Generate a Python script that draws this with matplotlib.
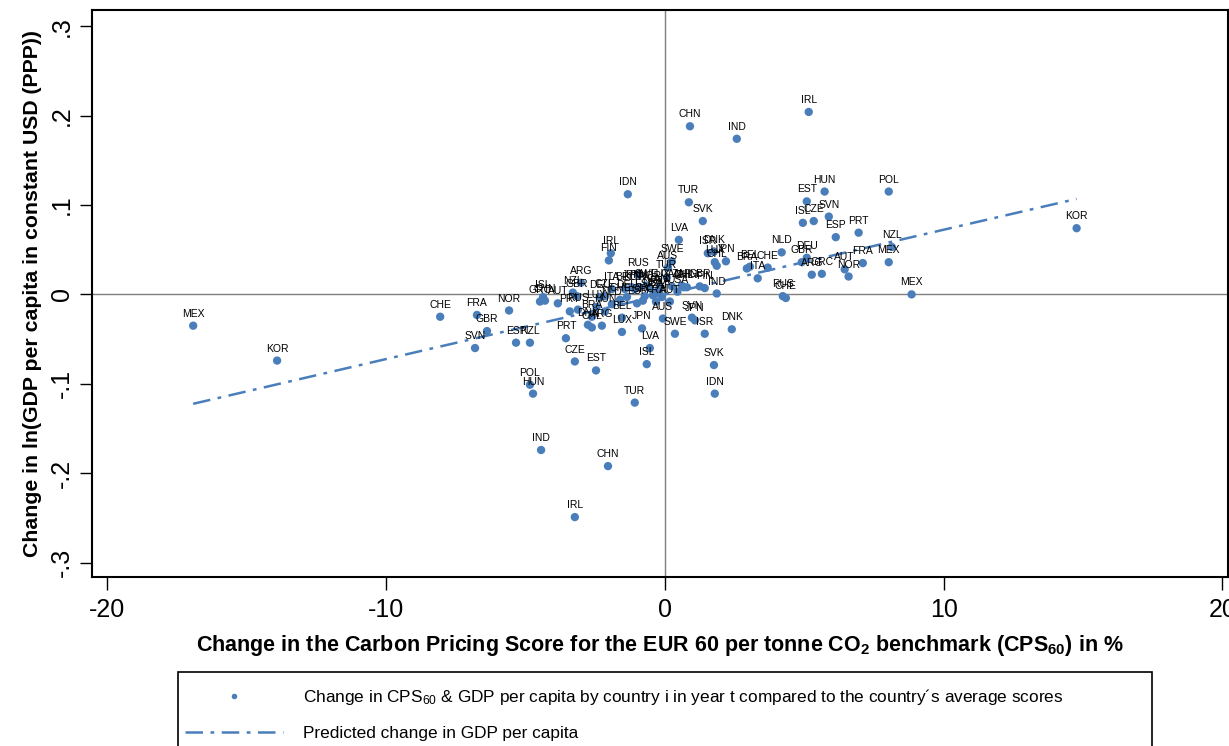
import numpy as np
import matplotlib
matplotlib.use('Agg')
import matplotlib.pyplot as plt
from matplotlib.lines import Line2D
from matplotlib.patches import Rectangle

plt.rcParams['font.family'] = ['Liberation Sans', 'DejaVu Sans']
plt.rcParams['mathtext.fontset'] = 'custom'
plt.rcParams['mathtext.rm'] = 'Liberation Sans'
plt.rcParams['mathtext.bf'] = 'Liberation Sans:bold'
plt.rcParams['mathtext.default'] = 'regular'

# country labels and deviations from country averages
countries = ['MEX', 'KOR', 'CHE', 'FRA', 'NOR', 'GBR', 'SVN', 'ESP', 'NZL', 'POL',
             'HUN', 'IND', 'CHN', 'IRL', 'CZE', 'EST', 'PRT', 'TUR', 'ISL', 'LVA',
             'SVK', 'IDN', 'DNK', 'ISR', 'SWE', 'AUS', 'JPN', 'LUX', 'SVN', 'JPN',
             'MEX', 'RUS', 'CHE', 'KOR', 'POL', 'HUN', 'EST', 'ISL', 'CZE', 'SVN',
             'ESP', 'PRT', 'NZL', 'MEX', 'FRA', 'AUT', 'NOR', 'GRC', 'ARG', 'DEU',
             'GBR', 'NLD', 'CHE', 'ITA', 'BEL', 'BRA', 'IRL', 'CHN', 'IND', 'IDN',
             'TUR', 'SVK', 'LVA', 'ISR', 'DNK', 'LUX', 'JPN', 'CHL', 'IND', 'FIN',
             'CHN', 'GBR', 'SWE', 'AUS', 'TUR', 'RUS', 'IRL', 'FIN', 'ARG', 'ISL',
             'GRC', 'CHN', 'AUT', 'NZL', 'GBR', 'PRT', 'RUS', 'DEU', 'CZE', 'ITA',
             'NLD', 'BRA', 'DNK', 'CHL', 'ARG', 'BEL', 'ESP', 'SWE', 'POL', 'KOR',
             'NOR', 'LUX', 'CAN', 'CHL', 'ZAF', 'ESP', 'USA', 'FRA', 'AUT', 'GRC',
             'BEL', 'JPN', 'DEU', 'CHE', 'HUN', 'CAN', 'USA', 'ZAF', 'LUX', 'FRA']
cps_change = [-16.92, -13.91, -8.06, -6.74, -5.59, -6.38, -6.81, -5.34, -4.84, -4.84,
              -4.73, -4.44, -2.04, -3.23, -3.23, -2.47, -3.55, -1.08, -0.65, -0.54,
              1.76, 1.79, 2.40, 1.43, 0.36, -0.07, -0.82, -1.54, 0.97, 1.08,
              8.85, 4.23, 4.34, 14.77, 8.03, 5.73, 5.09, 4.95, 5.34, 5.88,
              6.13, 6.95, 8.14, 8.03, 7.10, 6.45, 6.59, 5.63, 5.27, 5.09,
              4.91, 4.19, 3.69, 3.33, 3.05, 2.94, 5.16, 0.90, 2.58, -1.33,
              0.86, 1.36, 0.50, 1.54, 1.76, 1.79, 2.19, 1.86, 1.86, 1.43,
              0.79, 1.25, 0.25, 0.11, 0.07, -0.97, -1.94, -2.01, -3.01, -4.37,
              -4.48, -4.30, -3.84, -3.30, -3.15, -3.41, -3.12, -2.33, -2.15, -1.90,
              -1.90, -2.62, -2.76, -2.62, -2.26, -1.54, -1.00, -0.65, -0.90, -1.08,
              -0.54, -0.18, 0.25, 0.68, -0.11, -0.72, -0.43, -0.32, 0.18, -0.79,
              -1.43, -1.18, -1.36, -1.61, -2.15, -0.25, 0.45, 0.60, -2.45, -0.20]
gdp_change = [-0.035, -0.074, -0.025, -0.023, -0.018, -0.041, -0.060, -0.054, -0.054, -0.101,
              -0.111, -0.174, -0.192, -0.249, -0.075, -0.085, -0.049, -0.121, -0.078, -0.060,
              -0.079, -0.111, -0.039, -0.044, -0.044, -0.027, -0.038, -0.042, -0.026, -0.029,
              0.000, -0.002, -0.004, 0.074, 0.115, 0.115, 0.104, 0.080, 0.082, 0.087,
              0.064, 0.069, 0.053, 0.036, 0.035, 0.028, 0.020, 0.023, 0.022, 0.041,
              0.036, 0.047, 0.030, 0.018, 0.031, 0.029, 0.204, 0.188, 0.174, 0.112,
              0.103, 0.082, 0.061, 0.046, 0.048, 0.036, 0.037, 0.032, 0.001, 0.007,
              0.008, 0.009, 0.037, 0.030, 0.019, 0.022, 0.046, 0.038, 0.013, -0.003,
              -0.008, -0.007, -0.010, 0.002, -0.002, -0.019, -0.017, -0.003, -0.002, 0.006,
              -0.011, -0.025, -0.034, -0.037, -0.035, -0.026, -0.010, 0.010, 0.008, 0.006,
              0.007, 0.009, 0.009, 0.008, -0.003, -0.002, -0.001, -0.008, -0.008, -0.007,
              0.006, 0.008, -0.003, -0.006, -0.019, 0.004, 0.003, 0.010, -0.014, 0.002]

# fitted line: predicted change in GDP per capita
fit_slope = 0.00723
fit_intercept = 0.0

x_ticks = [-20, -10, 0, 10, 20]
x_tick_labels = ['-20', '-10', '0', '10', '20']
y_ticks = [-0.3, -0.2, -0.1, 0, 0.1, 0.2, 0.3]
y_tick_labels = ['-.3', '-.2', '-.1', '0', '.1', '.2', '.3']

blue = '#4a7ebb'

fig = plt.figure(figsize=(12.29, 7.46), dpi=100)
ax = fig.add_axes([92 / 1229, 169 / 746, 1136 / 1229, 567 / 746])

ax.axhline(0, color='#7f7f7f', lw=1.0, zorder=1)
ax.axvline(0, color='#7f7f7f', lw=1.0, zorder=1)

ax.scatter(cps_change, gdp_change, s=36, color=blue, edgecolors='none', zorder=3)
for c, x, y in zip(countries, cps_change, gdp_change):
    ax.annotate(c, (x, y), xytext=(0, 5), textcoords='offset points', ha='center',
                va='bottom', fontsize=7.5, color='black', zorder=4)

xs = np.array([min(cps_change), max(cps_change)])
line, = ax.plot(xs, fit_intercept + fit_slope * xs, color=blue, lw=1.8,
                dashes=(7, 3, 1.5, 3), zorder=2)

ax.set_xlim(-20.55, 20.2)
ax.set_ylim(-0.316, 0.318)
ax.set_xticks(x_ticks)
ax.set_xticklabels(x_tick_labels, fontsize=18)
ax.set_yticks(y_ticks)
ax.set_yticklabels(y_tick_labels, fontsize=18, rotation=90, va='center')
ax.tick_params(axis='both', direction='out', length=9, width=1.0, color='black')
ax.tick_params(axis='x', pad=6)
ax.tick_params(axis='y', pad=4)
for s in ax.spines.values():
    s.set_linewidth(1.5)
    s.set_color('black')

ax.set_xlabel(r'Change in the Carbon Pricing Score for the EUR 60 per tonne CO$_{\mathbf{2}}$'
              r' benchmark (CPS$_{\mathbf{60}}$) in %', fontsize=15.5, fontweight='bold', labelpad=8)
ax.set_ylabel('Change in ln(GDP per capita in constant USD (PPP))', fontsize=15.3,
              fontweight='bold', labelpad=6)

# legend frame runs off the bottom of the figure like in the original
fig.patches.append(Rectangle((178 / 1229, -0.05), (1152 - 178) / 1229, 0.05 + (746 - 672) / 746,
                             transform=fig.transFigure, fill=False, edgecolor='black', lw=1.2))

h_dot = Line2D([], [], ls='none', marker='o', ms=4, color=blue, markeredgewidth=0)
leg = fig.legend([h_dot, line],
                 ['Change in CPS$_{60}$ & GDP per capita by country i in year t compared to the country\u00b4s average scores',
                  'Predicted change in GDP per capita'],
                 loc='upper left', bbox_to_anchor=(178 / 1229, 1 - 680 / 746),
                 fontsize=12.4, frameon=False, handlelength=5.7, handletextpad=1.15,
                 labelspacing=1.1, borderpad=0.4, borderaxespad=0)

fig.savefig('out.png', dpi=100)
